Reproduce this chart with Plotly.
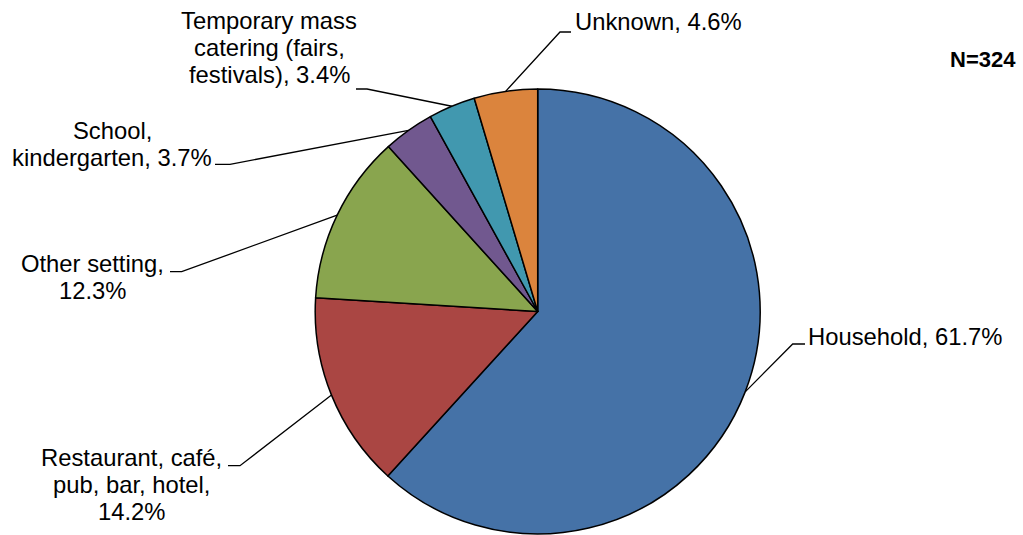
import math
import plotly.graph_objects as go

# Outbreak settings (share of outbreaks, %)
settings = [
    "Household",
    "Restaurant, café, pub, bar, hotel",
    "Other setting",
    "School, kindergarten",
    "Temporary mass catering (fairs, festivals)",
    "Unknown",
]
shares = [61.7, 14.2, 12.3, 3.7, 3.4, 4.6]
colors = ["#4572A7", "#AA4643", "#89A54E", "#71588F", "#4198AF", "#DB843D"]
label_lines = [
    ["Household, 61.7%"],
    ["Restaurant, café,", "pub, bar, hotel,", "14.2%"],
    ["Other setting,", "12.3%"],
    ["School,", "kindergarten, 3.7%"],
    ["Temporary mass", "catering (fairs,", "festivals), 3.4%"],
    ["Unknown, 4.6%"],
]
total_n = 324

W, H = 1023, 535
FONT = "Liberation Sans, Arial, sans-serif"
FS = 23.8
LINE_H = 26.8

# pie box in pixels
CX, CY, R = 537.7, 311.5, 222.5


def px(x):
    return x / W


def py(y):
    return 1 - y / H


# label placement: anchor x, xanchor, first-line baseline, elbow point, leader end x
placement = [
    dict(x=808, xa="left", base=345.0, elbow=(792.7, 344), end=805),
    dict(x=131.5, xa="center", base=466.0, elbow=(240, 465.7), end=228),
    dict(x=92.4, xa="center", base=271.7, elbow=(181.7, 271.7), end=170),
    dict(x=112, xa="center", base=139.3, elbow=(230, 164.3), end=215),
    dict(x=269, xa="center", base=29.0, elbow=(367, 89), end=356),
    dict(x=575, xa="left", base=30.0, elbow=(560, 32), end=571),
]

fig = go.Figure(
    go.Pie(
        labels=settings,
        values=shares,
        sort=False,
        direction="clockwise",
        rotation=0,
        textinfo="none",
        marker=dict(colors=colors, line=dict(color="#000000", width=1.5)),
        domain=dict(x=[px(CX - R), px(CX + R)], y=[py(CY + R), py(CY - R)]),
        showlegend=False,
        hoverinfo="label+percent",
    )
)

shapes = []
annotations = []
tot = sum(shares)
cum = 0.0
for val, lines, pl in zip(shares, label_lines, placement):
    mid = (cum + val / 2) / tot * 2 * math.pi
    cum += val
    sx = CX + R * math.sin(mid)
    sy = CY - R * math.cos(mid)
    ex, ey = pl["elbow"]
    path = f"M {px(sx)} {py(sy)} L {px(ex)} {py(ey)} L {px(pl['end'])} {py(ey)}"
    shapes.append(dict(type="path", xref="paper", yref="paper", path=path,
                       line=dict(color="#000000", width=1.3)))
    for i, t in enumerate(lines):
        cy = pl["base"] + i * LINE_H - 0.35 * FS
        annotations.append(dict(
            x=px(pl["x"]), y=py(cy), xref="paper", yref="paper",
            xanchor=pl["xa"], yanchor="middle", text=t, showarrow=False,
            font=dict(family=FONT, size=FS, color="#000000"),
            borderpad=0, borderwidth=0,
        ))

annotations.append(dict(
    x=px(982.5), y=py(67 - 0.35 * 22), xref="paper", yref="paper",
    xanchor="center", yanchor="middle", text=f"<b>N={total_n}</b>", showarrow=False,
    font=dict(family=FONT, size=22, color="#000000"), borderpad=0, borderwidth=0,
))

fig.update_layout(
    width=W, height=H,
    margin=dict(l=0, r=0, t=0, b=0),
    paper_bgcolor="#FFFFFF", plot_bgcolor="#FFFFFF",
    shapes=shapes, annotations=annotations,
)

fig.write_html("out.html")
